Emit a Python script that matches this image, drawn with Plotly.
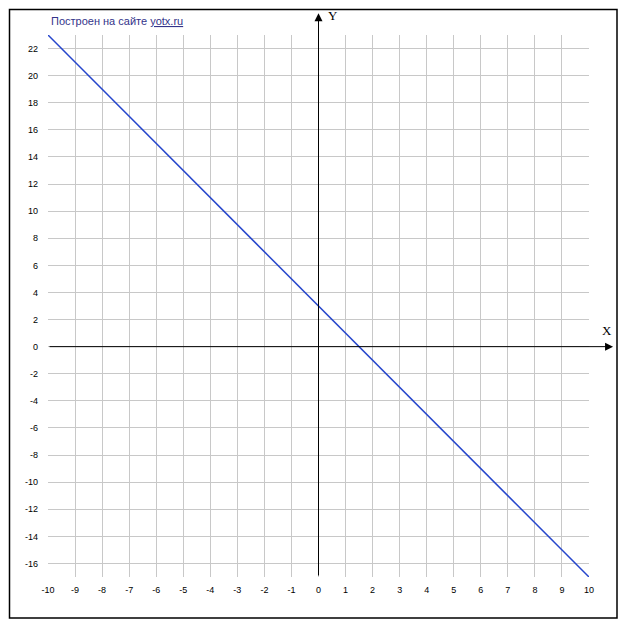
import plotly.graph_objects as go

# line y = -2x + 3, endpoints
line_x = [-10, 10]
line_y = [23, -17]

x_ticks = list(range(-10, 11))
y_ticks = list(range(-16, 23, 2))

X_RANGE = [-10, 10]
Y_RANGE = [-17, 23]

# figure / plot area in pixels
W, H = 627, 630
M_L, M_R, M_T, M_B = 48, 38, 35, 53
PLOT_W = W - M_L - M_R
PLOT_H = H - M_T - M_B


def paper_x(v):
    return (v - X_RANGE[0]) / (X_RANGE[1] - X_RANGE[0])


def paper_y(v):
    return (v - Y_RANGE[0]) / (Y_RANGE[1] - Y_RANGE[0])


def paper_px_x(px):
    return (px - M_L) / PLOT_W


def paper_px_y(px):
    return (H - M_B - px) / PLOT_H


fig = go.Figure()

fig.add_trace(go.Scatter(
    x=line_x,
    y=line_y,
    mode="lines",
    line=dict(color="#2646cc", width=1.5),
    hoverinfo="skip",
    showlegend=False,
))

# axis arrows (they run past the grid, so drawn in paper coords)
x_tip = 10.89
y_tip = 24.6
arrow = dict(text="", showarrow=True, arrowhead=2, arrowsize=1.6,
             arrowwidth=1, arrowcolor="black", xref="paper", yref="paper")
fig.add_annotation(x=paper_x(x_tip), y=paper_y(0),
                   ax=-paper_x(x_tip) * PLOT_W, ay=0, **arrow)
fig.add_annotation(x=paper_x(0), y=paper_y(y_tip),
                   ax=0, ay=paper_y(y_tip) * PLOT_H, **arrow)

axis_font = dict(family="Liberation Serif", size=13, color="black")
fig.add_annotation(text="X", x=paper_px_x(607), y=paper_px_y(331),
                   xanchor="center", yanchor="middle",
                   xref="paper", yref="paper", showarrow=False, font=axis_font)
fig.add_annotation(text="Y", x=paper_px_x(333), y=paper_px_y(16),
                   xanchor="center", yanchor="middle",
                   xref="paper", yref="paper", showarrow=False, font=axis_font)

# site caption
fig.add_annotation(
    text="Построен на сайте <u>yotx.ru</u>",
    x=paper_px_x(49), y=paper_px_y(21), xanchor="left", yanchor="middle",
    xref="paper", yref="paper", showarrow=False,
    font=dict(family="Liberation Sans", size=11, color="#33338a"),
)

# outer frame
fig.add_shape(type="rect", xref="paper", yref="paper",
              x0=paper_px_x(9.5), x1=paper_px_x(617), y0=paper_px_y(618), y1=paper_px_y(9.5),
              line=dict(color="black", width=1.5), layer="above")

tick_font = dict(family="Liberation Sans", size=9, color="black")

fig.update_xaxes(
    range=X_RANGE, tickvals=x_ticks, ticktext=[str(v) for v in x_ticks],
    showgrid=True, gridcolor="#c8c8c8", gridwidth=1,
    zeroline=False, showline=False, ticks="", ticklabelstandoff=6,
    tickfont=tick_font, fixedrange=True,
)
fig.update_yaxes(
    range=Y_RANGE, tickvals=y_ticks, ticktext=[str(v) for v in y_ticks],
    showgrid=True, gridcolor="#c8c8c8", gridwidth=1,
    zeroline=False, showline=False, ticks="", ticklabelstandoff=9,
    tickfont=tick_font, fixedrange=True,
)

fig.update_layout(
    width=W, height=H, autosize=False,
    margin=dict(l=M_L, r=M_R, t=M_T, b=M_B),
    paper_bgcolor="white", plot_bgcolor="white",
    showlegend=False,
)

# page body has an 8px default margin; drop it so the figure sits at 0,0
fig.write_html("out.html", config={"displayModeBar": False},
               post_script="document.body.style.margin='0';")
